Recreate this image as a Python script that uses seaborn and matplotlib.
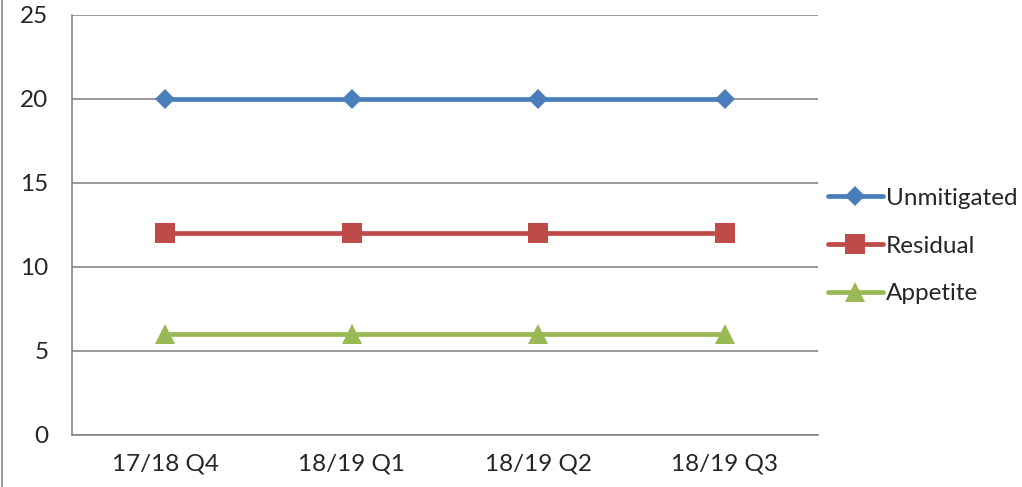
import pandas as pd
import matplotlib.pyplot as plt
import seaborn as sns
from matplotlib.lines import Line2D

# Chart data
quarters = ['17/18 Q4', '18/19 Q1', '18/19 Q2', '18/19 Q3']
unmitigated = [20, 20, 20, 20]
residual = [12, 12, 12, 12]
appetite = [6, 6, 6, 6]

series = {'Unmitigated': unmitigated, 'Residual': residual, 'Appetite': appetite}
colors = {'Unmitigated': '#4A7EBB', 'Residual': '#BE4B48', 'Appetite': '#98B954'}
markers = {'Unmitigated': 'D', 'Residual': 's', 'Appetite': '^'}
msizes = {'Unmitigated': 10, 'Residual': 14, 'Appetite': 14}

sns.set_style('white')
plt.rcParams['font.family'] = ['Lato', 'DejaVu Sans']

fig = plt.figure(figsize=(10.22, 4.87), dpi=100)
ax = fig.add_axes([0.0705, 0.1068, 0.7299, 0.8624])

pos = list(range(len(quarters)))
for name, vals in series.items():
    sns.lineplot(x=pos, y=vals, color=colors[name], marker=markers[name],
                 markersize=msizes[name], markeredgewidth=0, linewidth=3.4,
                 label=name, ax=ax)

ax.set_xlim(-0.5, 3.5)
ax.set_ylim(0, 25)
ax.set_yticks(range(0, 26, 5))
ax.set_xticks(pos)
ax.set_xticklabels(quarters)
ax.set_xticks([-0.5, 0.5, 1.5, 2.5, 3.5], minor=True)
ax.tick_params(axis='x', which='major', length=0, pad=13, labelsize=17.5)
ax.tick_params(axis='x', which='minor', length=5, color='#868686', width=1.2, direction='out')
ax.tick_params(axis='y', length=5, color='#868686', width=1.2, direction='out',
               labelsize=17.5, pad=12)
ax.grid(axis='y', color='#868686', linewidth=1.2)
ax.set_axisbelow(True)
for s in ['top', 'right']:
    ax.spines[s].set_visible(False)
for s in ['left', 'bottom']:
    ax.spines[s].set_color('#868686')
    ax.spines[s].set_linewidth(1.2)
ax.set_xlabel('')
ax.set_ylabel('')

ax.legend(frameon=False, loc='center left', bbox_to_anchor=(1.003, 0.45),
          fontsize=17.5, handlelength=2.3, handletextpad=0.1, labelspacing=1.1,
          borderaxespad=0.0, borderpad=0.3)

# outer chart border on the left
fig.add_artist(Line2D([0.002, 0.002], [0, 1], color='#868686', linewidth=1.2))

fig.savefig('out.png', dpi=100)
